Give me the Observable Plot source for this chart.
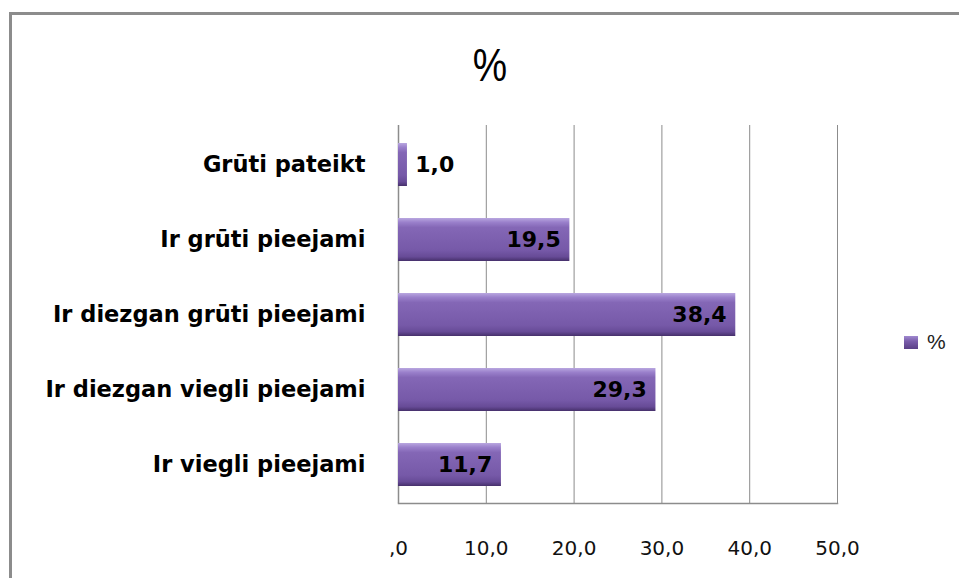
<!DOCTYPE html>
<html>
<head>
<meta charset="utf-8">
<script src="https://cdn.jsdelivr.net/npm/d3@7"></script>
<script src="https://cdn.jsdelivr.net/npm/@observablehq/plot@0.6"></script>
<style>
  html, body { margin: 0; padding: 0; background: #fff; }
  #wrap { position: relative; width: 959px; height: 578px; overflow: hidden; }
  #border { position: absolute; left: 9px; top: 12px; right: -5px; bottom: -5px;
            border-left: 3px solid #8c8c8c; border-top: 3px solid #8c8c8c; }
  #title { position: absolute; left: 390px; width: 200px; top: 38px; text-align: center;
           font-family: "Liberation Sans Narrow", "Liberation Sans", sans-serif; font-size: 46px; color: #000;
           transform: scaleX(0.84); }
  #legend { position: absolute; left: 904px; top: 330px; font-family: "Liberation Sans", sans-serif;
            font-size: 21px; color: #222; display: flex; align-items: center; }
  #legend .sw { width: 14px; height: 13px; margin-right: 9px;
                background: linear-gradient(#a08ad0, #7a5dab 40%, #5a3f86); }
  #chart { position: absolute; left: 0; top: 0; }
</style>
</head>
<body>
<div id="wrap">
  <div id="border"></div>
  <div id="chart"></div>
  <div id="title">%</div>
  <div id="legend"><div class="sw"></div><span>%</span></div>
</div>
<script>
const categories = ["Grūti pateikt", "Ir grūti pieejami", "Ir diezgan grūti pieejami", "Ir diezgan viegli pieejami", "Ir viegli pieejami"];
const values = [1.0, 19.5, 38.4, 29.3, 11.7];
const xTicks = [0, 10, 20, 30, 40, 50];

const data = categories.map((c, i) => ({category: c, value: values[i]}));
const fmt = v => d3.format(".1f")(v).replace(".", ",");
const tickFmt = v => v === 0 ? ",0" : fmt(v);

const plot = Plot.plot({
  width: 959,
  height: 578,
  marginLeft: 398,
  marginRight: 122,
  marginTop: 125,
  marginBottom: 75,
  x: {domain: [0, 50], ticks: xTicks},
  y: {domain: categories, paddingInner: 0.43, paddingOuter: 0.22},
  style: {background: "transparent"},
  marks: [
    Plot.gridX(xTicks.slice(1), {stroke: "#8c8c8c", strokeOpacity: 1, strokeWidth: 1}),
    Plot.ruleX([0], {stroke: "#8c8c8c", strokeWidth: 1.5}),
    Plot.frame({anchor: "bottom", stroke: "#8c8c8c", strokeWidth: 1.5}),
    Plot.barX(data, {x: "value", y: "category", fill: "url(#barGrad)", style: "filter:url(#barShadow)"}),
    Plot.barX(data, {x: "value", y: "category", fill: "url(#barGrad)"}),
    Plot.text(data.filter(d => d.value >= 5), {x: "value", y: "category", text: d => fmt(d.value),
      textAnchor: "end", dx: -9, fontSize: 22, fontWeight: "bold", fontFamily: "DejaVu Sans", fill: "#000"}),
    Plot.text(data.filter(d => d.value < 5), {x: "value", y: "category", text: d => fmt(d.value),
      textAnchor: "start", dx: 8, fontSize: 22, fontWeight: "bold", fontFamily: "DejaVu Sans", fill: "#000"}),
    Plot.axisY({tickSize: 0, tickPadding: 33, fontSize: 22.5, fontWeight: "bold", fontFamily: "DejaVu Sans", label: null, fill: "#000"}),
    Plot.axisX(xTicks, {tickSize: 0, tickPadding: 37, fontSize: 20, fontFamily: "DejaVu Sans", label: null, tickFormat: tickFmt, fill: "#111"})
  ]
});

const ns = "http://www.w3.org/2000/svg";
const defs = document.createElementNS(ns, "defs");
defs.innerHTML = `
  <linearGradient id="barGrad" x1="0" y1="0" x2="0" y2="1">
    <stop offset="0" stop-color="#b9a7e0"/>
    <stop offset="0.1" stop-color="#9a80cb"/>
    <stop offset="0.22" stop-color="#8467b6"/>
    <stop offset="0.75" stop-color="#7659a8"/>
    <stop offset="0.9" stop-color="#674b97"/>
    <stop offset="1" stop-color="#46306b"/>
  </linearGradient>
  <filter id="barShadow" x="-10%" y="-20%" width="130%" height="160%">
    <feGaussianBlur in="SourceAlpha" stdDeviation="2.5"/>
    <feOffset dx="3" dy="4" result="b"/>
    <feComponentTransfer><feFuncA type="linear" slope="0.35"/></feComponentTransfer>
  </filter>`;
plot.insertBefore(defs, plot.firstChild);
document.getElementById("chart").appendChild(plot);
</script>
</body>
</html>
